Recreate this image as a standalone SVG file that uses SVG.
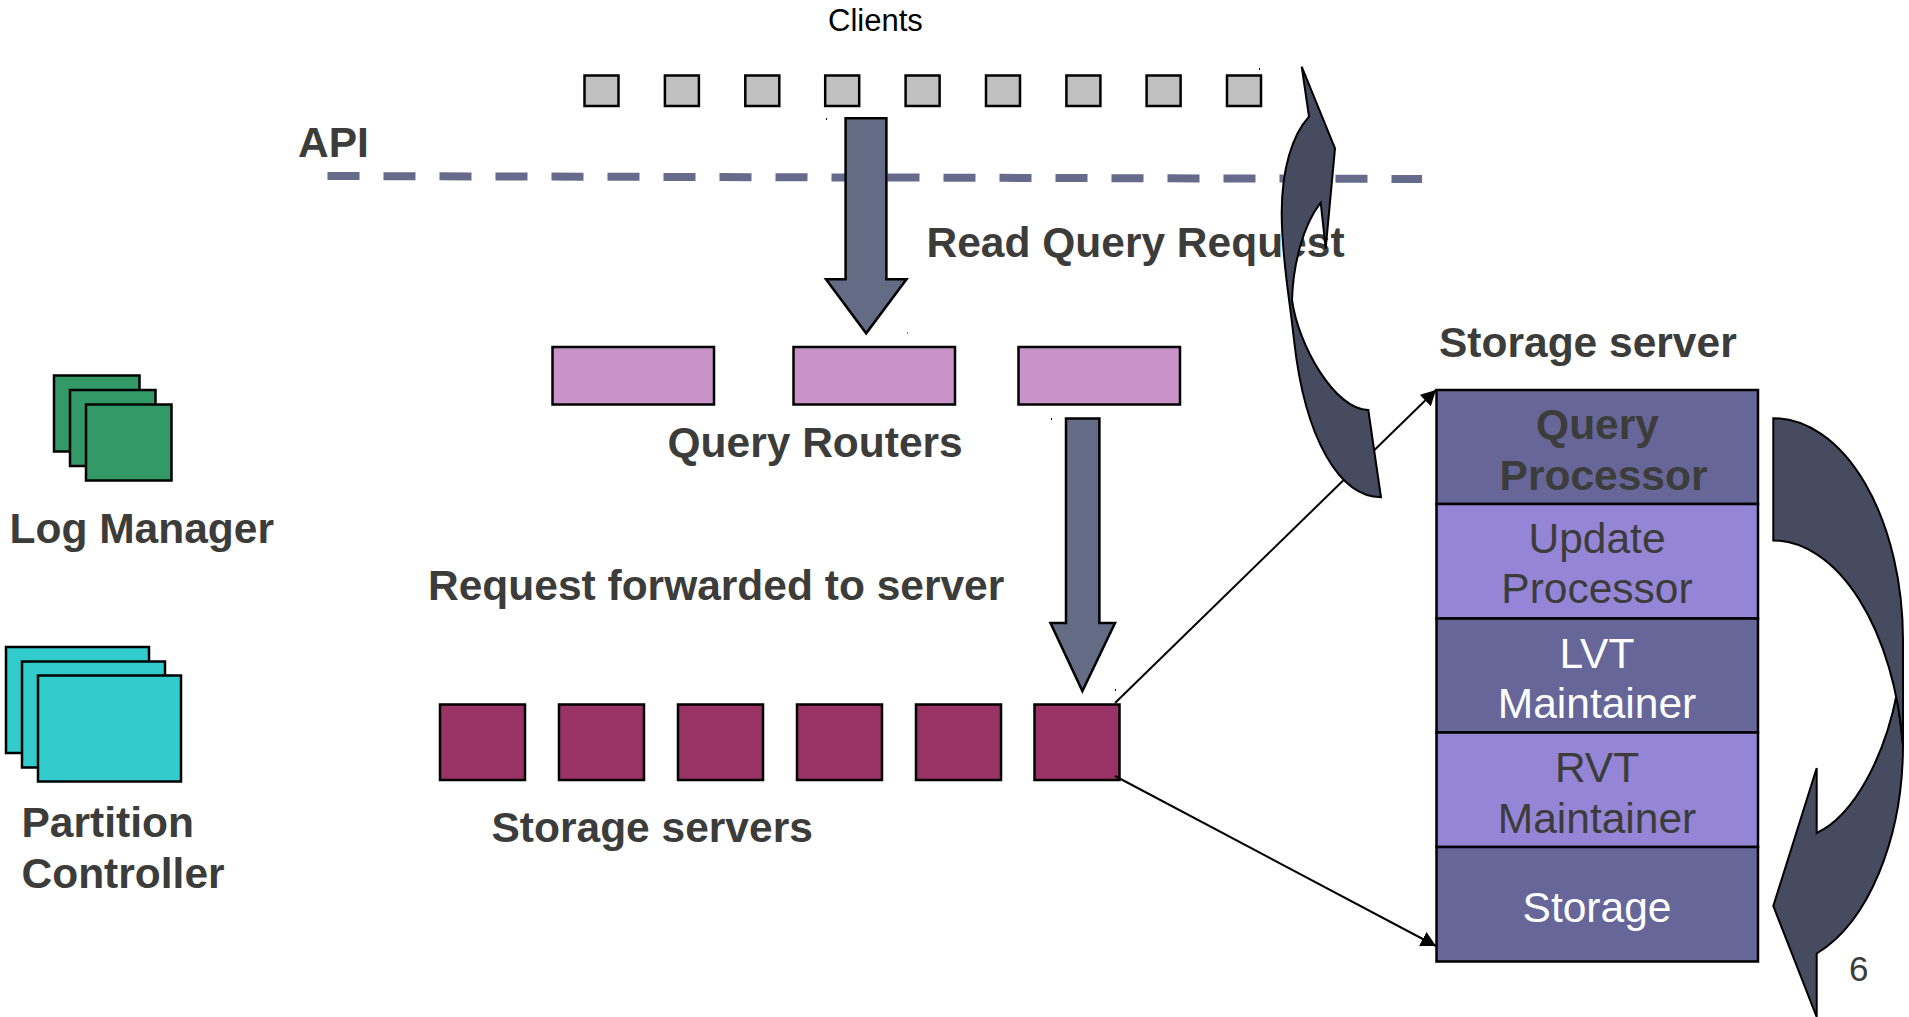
<svg xmlns="http://www.w3.org/2000/svg" width="1909" height="1017" viewBox="0 0 1909 1017">
<style>
text{font-family:"Liberation Sans",Arial,sans-serif;font-size:42.5px;fill:#3c3c3a}
.b{font-weight:bold}
.w{fill:#fff}
.m{text-anchor:middle}
.s{stroke:#000;stroke-width:2.5}
.client{fill:#c0c0c0}
.router{fill:#c993c9}
.server{fill:#993366}
.green{fill:#339966}
.teal{fill:#33cccc}
.dark{fill:#666699;stroke:#000;stroke-width:2.5}
.light{fill:#9485d7;stroke:#000;stroke-width:2.5}
.arrow{fill:#646b85;stroke:#000;stroke-width:2.5;stroke-linejoin:miter}
.curve{fill:#464b5f;stroke:#000;stroke-width:2;stroke-linejoin:miter}
.link{stroke:#000;stroke-width:2;fill:none;marker-end:url(#tip)}
.speck{fill:#000}
</style>
<defs>
<marker id="tip" markerUnits="userSpaceOnUse" markerWidth="16" markerHeight="18" refX="15" refY="8" orient="auto">
<path d="M0 0L15 8L0 16Z" fill="#000"/>
</marker>
</defs>
<g id="api-line"><path d="M327.5 176L1422 179" fill="none" stroke="#666b8c" stroke-width="8" stroke-dasharray="32 24"/></g>
<g id="label-api"><text class="b" x="298" y="157">API</text></g>
<g id="label-clients"><text x="828" y="30.5" style="font-size:31px;fill:#000">Clients</text></g>
<g id="label-read"><text class="b" x="926.5" y="257">Read Query Request</text></g>
<g id="label-routers"><text class="b" x="667.5" y="457">Query Routers</text></g>
<g id="label-forward"><text class="b" x="428" y="600">Request forwarded to server</text></g>
<g id="label-servers"><text class="b" x="491.5" y="841.5">Storage servers</text></g>
<g id="label-storage-server"><text class="b" x="1439" y="357">Storage server</text></g>
<g id="clients">
<rect class="s client" x="584.5" y="75.5" width="34" height="30.5"/>
<rect class="s client" x="664.9" y="75.5" width="34" height="30.5"/>
<rect class="s client" x="745.3" y="75.5" width="34" height="30.5"/>
<rect class="s client" x="825.2" y="75.5" width="34" height="30.5"/>
<rect class="s client" x="905.6" y="75.5" width="34" height="30.5"/>
<rect class="s client" x="986" y="75.5" width="34" height="30.5"/>
<rect class="s client" x="1066.4" y="75.5" width="34" height="30.5"/>
<rect class="s client" x="1146.6" y="75.5" width="34" height="30.5"/>
<rect class="s client" x="1227" y="75.5" width="34" height="30.5"/>
</g>
<g id="routers">
<rect class="s router" x="552.5" y="347" width="161.5" height="57.5"/>
<rect class="s router" x="793.5" y="347" width="161.5" height="57.5"/>
<rect class="s router" x="1018.5" y="347" width="161.5" height="57.5"/>
</g>
<g id="servers">
<rect class="s server" x="440" y="704.5" width="85" height="75.5"/>
<rect class="s server" x="559" y="704.5" width="85" height="75.5"/>
<rect class="s server" x="678" y="704.5" width="85" height="75.5"/>
<rect class="s server" x="797" y="704.5" width="85" height="75.5"/>
<rect class="s server" x="916" y="704.5" width="85" height="75.5"/>
<rect class="s server" x="1034.5" y="704.5" width="85" height="75.5"/>
</g>
<g id="log-manager">
<rect class="s green" x="54" y="375.5" width="85.5" height="76"/>
<rect class="s green" x="70" y="390" width="85.5" height="76"/>
<rect class="s green" x="86" y="404.5" width="85.5" height="76"/>
<text class="b" x="9.5" y="543">Log Manager</text>
</g>
<g id="partition-controller">
<rect class="s teal" x="6" y="647" width="143" height="106"/>
<rect class="s teal" x="22" y="661.5" width="143" height="106"/>
<rect class="s teal" x="38" y="675.5" width="143" height="106"/>
<text class="b" x="21.5" y="837">Partition</text>
<text class="b" x="21.5" y="888">Controller</text>
</g>
<g id="connectors">
<path class="link" d="M1115 703L1436 390"/>
<path class="link" d="M1115 776L1436 946"/>
</g>
<g id="storage-server">
<g id="query-processor"><rect class="dark" x="1436.5" y="390" width="321.5" height="114"/>
<text class="b m" x="1597.5" y="439">Query</text><text class="b m" x="1603.5" y="490">Processor</text></g>
<g id="update-processor"><rect class="light" x="1436.5" y="504" width="321.5" height="114.5"/>
<text class="m" x="1597" y="552.5">Update</text><text class="m" x="1597" y="603">Processor</text></g>
<g id="lvt-maintainer"><rect class="dark" x="1436.5" y="618.5" width="321.5" height="114"/>
<text class="m w" x="1597" y="668">LVT</text><text class="m w" x="1597" y="718">Maintainer</text></g>
<g id="rvt-maintainer"><rect class="light" x="1436.5" y="732.5" width="321.5" height="114.5"/>
<text class="m" x="1597" y="782">RVT</text><text class="m" x="1597" y="833">Maintainer</text></g>
<g id="storage"><rect class="dark" x="1436.5" y="847" width="321.5" height="114.5"/>
<text class="m w" x="1597" y="922">Storage</text></g>
</g>
<g id="arrow-down-1"><path class="arrow" d="M845.6 118.3H886.4V279.3H906.5L866.2 333.3L826 279.3H845.6Z"/></g>
<g id="arrow-down-2"><path class="arrow" d="M1066 418.5H1099.4V623H1115L1082.4 691L1050.5 623H1066Z"/></g>
<g id="curved-arrow-left"><path class="curve" d="M1381 497.3C1340 497 1305 440 1294 340C1290 300 1281.7 260 1281.7 213C1281.7 170 1292 135 1309 116.7L1301.7 66.7L1335 148.3L1325.7 248.3L1320.7 202.7C1303 225 1293 265 1292 300C1298 345 1335 410 1368.3 410Z"/></g>
<g id="curved-arrow-right"><path class="curve" d="M1897 693C1885 755 1855 815 1816.7 833V768L1773.3 906L1816.7 1017V953.5A130 222 0 0 0 1903 745Z"/>
<path class="curve" d="M1773.3 418.2A130 222 0 0 1 1903 640V745A132 240 0 0 0 1773.3 540.4Z"/></g>
<g id="page-number"><text x="1849" y="981" style="font-size:35px">6</text></g>
<g id="specks">
<rect class="speck" x="826" y="118" width="1" height="2"/>
<rect class="speck" x="907" y="332.5" width="1" height="1"/>
<rect class="speck" x="1051" y="418" width="1" height="2"/>
<rect class="speck" x="1259" y="68" width="1" height="2"/>
<rect class="speck" x="1115" y="689" width="1" height="2"/>
</g>
</svg>
